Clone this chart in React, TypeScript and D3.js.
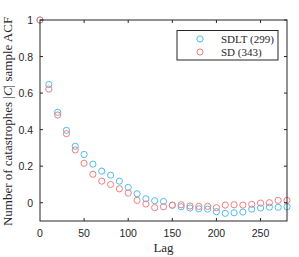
import React from 'react';
import * as d3 from 'd3';

const lags = d3.range(0, 290, 10);
const sdlt = [1, 0.647, 0.495, 0.396, 0.309, 0.264, 0.211, 0.173, 0.151, 0.118, 0.084, 0.049, 0.022,
  0.011, 0.007, -0.014, -0.022, -0.029, -0.033, -0.035, -0.049, -0.058, -0.055, -0.051, -0.035, -0.029, -0.024, -0.025, -0.022];
const sd = [1, 0.622, 0.48, 0.378, 0.289, 0.216, 0.156, 0.118, 0.1, 0.076, 0.053, 0.013, -0.007,
  -0.027, -0.022, -0.013, -0.011, -0.018, -0.02, -0.02, -0.027, -0.013, -0.011, -0.013, -0.009, -0.002, 0, 0.013, 0.013];
const xTicks = [0, 50, 100, 150, 200, 250];
const yTicks = [0, 0.2, 0.4, 0.6, 0.8, 1];
const seriesNames = ['SDLT (299)', 'SD (343)'];
const colors = ['#4dbeee', '#f27e7e'];

const margin = { top: 20, right: 12, bottom: 36, left: 40 };
const W = 299, H = 257;

export default function App() {
  const w = W - margin.left - margin.right;
  const h = H - margin.top - margin.bottom;
  const x = d3.scaleLinear().domain([0, 280]).range([0, w]);
  const y = d3.scaleLinear().domain([-0.1, 1]).range([h, 0]);
  const axisColor = '#262626';
  const tickFont = { fontFamily: 'Liberation Sans, Arial, sans-serif', fontSize: 10.5, fill: axisColor };

  return (
    <svg width={W} height={H} style={{ position: 'absolute', left: 0, top: 0, background: '#fff' }}>
      <g transform={`translate(${margin.left},${margin.top})`}>
        {[sdlt, sd].map((s, si) => (
          <g key={si}>
            {s.map((v, i) => (
              <circle key={i} cx={x(lags[i])} cy={y(v)} r={3.1} fill="none" stroke={colors[si]} strokeWidth={1} />
            ))}
          </g>
        ))}
        <rect x={0} y={0} width={w} height={h} fill="none" stroke={axisColor} strokeWidth={1} />
        {xTicks.map((t) => (
          <g key={t}>
            {t > 0 && <line x1={x(t)} x2={x(t)} y1={h} y2={h - 3} stroke={axisColor} />}
            {t > 0 && <line x1={x(t)} x2={x(t)} y1={0} y2={3} stroke={axisColor} />}
            <text x={x(t)} y={h + 16} textAnchor="middle" {...tickFont}>{t}</text>
          </g>
        ))}
        {yTicks.map((t) => (
          <g key={t}>
            <line x1={0} x2={3} y1={y(t)} y2={y(t)} stroke={axisColor} />
            <line x1={w} x2={w - 3} y1={y(t)} y2={y(t)} stroke={axisColor} />
            <text x={-7} y={y(t) + 4} textAnchor="end" {...tickFont}>{t}</text>
          </g>
        ))}
        <text x={w / 2} y={h + 31} textAnchor="middle" fontFamily="Liberation Serif, serif" fontSize={13} fill={axisColor}>Lag</text>
        <text transform={`translate(${-28},${h / 2 + 1}) rotate(-90)`} textAnchor="middle" fontFamily="Liberation Serif, serif" fontSize={13} fill={axisColor}>
          Number of catastrophes |<tspan fontStyle="italic">C</tspan>| sample ACF
        </text>
        <g transform={`translate(${w - 110},${10.5})`}>
          <rect x={0} y={0} width={101} height={29.5} fill="#fff" stroke={axisColor} strokeWidth={1} />
          {seriesNames.map((n, i) => (
            <g key={n} transform={`translate(0,${8.5 + i * 13})`}>
              <circle cx={23} cy={0} r={3.1} fill="none" stroke={colors[i]} strokeWidth={1} />
              <text x={44} y={3.5} fontFamily="Liberation Serif, serif" fontSize={11} fill={axisColor}>{n}</text>
            </g>
          ))}
        </g>
      </g>
    </svg>
  );
}
